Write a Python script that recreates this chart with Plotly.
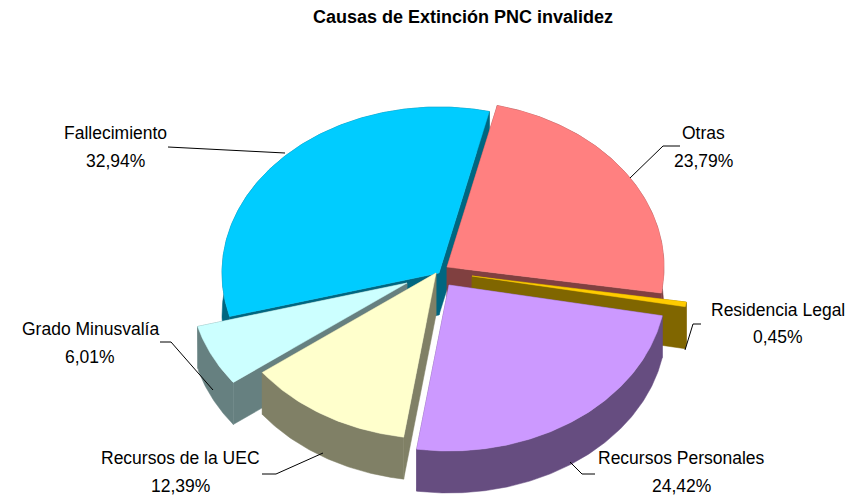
import math
import plotly.graph_objects as go

# --- data ---
categories = ["Otras", "Residencia Legal", "Recursos Personales", "Recursos de la UEC", "Grado Minusvalía", "Fallecimiento"]
values = [23.79, 0.45, 24.42, 12.39, 6.01, 32.94]
title_text = "Causas de Extinción PNC invalidez"

# --- styling / layout ---
top_colors = ["#FF8080", "#FFCC00", "#CC99FF", "#FFFFCC", "#CCFFFF", "#00CCFF"]
side_colors = ["#804040", "#806600", "#664D80", "#808066", "#668080", "#006680"]
apex_x = [447, 472, 449, 436, 407, 439]
apex_y = [267, 276, 285, 273, 283, 273]
paint_order = [5, 0, 1, 4, 3, 2]
label_x = [703, 778, 681, 180, 90, 115]
label_y = [(133, 161), (310, 337), (458, 486), (458, 486), (329, 357), (133, 161)]
leader_x = [[630, 663, 680], [685, 693, 701], [570, 582, 595], [323, 276, 262], [213, 171, 160], [285, 168]]
leader_y = [[178, 146, 146], [350, 324, 324], [462, 474, 474], [453, 474, 474], [390, 342, 342], [153, 147]]
RX, RY, DEPTH, START = 217, 166, 42, 13.4
FONT = "Liberation Sans, Arial, sans-serif"

fig = go.Figure()


def add_poly(xs, ys, color):
    fig.add_trace(go.Scatter(x=xs, y=ys, mode="lines", fill="toself", fillcolor=color,
                             line=dict(color=color, width=0.5), hoverinfo="skip", showlegend=False))


# slice angle ranges from the values
total = sum(values)
angles = []
a = START
for v in values:
    b = a + v / total * 360
    angles.append((a, b))
    a = b

for i in paint_order:
    a0, a1 = angles[i]
    n = max(3, int((a1 - a0) * 1.5))
    th = [math.radians(a0 + (a1 - a0) * k / n) for k in range(n + 1)]
    rim_x = [apex_x[i] + RX * math.sin(t) for t in th]
    rim_y = [apex_y[i] - RY * math.cos(t) for t in th]
    # extruded sides: both cut faces and the outer wall
    add_poly([apex_x[i], rim_x[0], rim_x[0], apex_x[i], apex_x[i]],
             [apex_y[i], rim_y[0], rim_y[0] + DEPTH, apex_y[i] + DEPTH, apex_y[i]], side_colors[i])
    add_poly([apex_x[i], rim_x[-1], rim_x[-1], apex_x[i], apex_x[i]],
             [apex_y[i], rim_y[-1], rim_y[-1] + DEPTH, apex_y[i] + DEPTH, apex_y[i]], side_colors[i])
    add_poly(rim_x + rim_x[::-1] + [rim_x[0]],
             rim_y + [y + DEPTH for y in rim_y[::-1]] + [rim_y[0]], side_colors[i])
    # top face
    add_poly([apex_x[i]] + rim_x + [apex_x[i]], [apex_y[i]] + rim_y + [apex_y[i]], top_colors[i])

for lx, ly in zip(leader_x, leader_y):
    fig.add_trace(go.Scatter(x=lx, y=ly, mode="lines", line=dict(color="black", width=1),
                             hoverinfo="skip", showlegend=False))

annotations = []
for i, cat in enumerate(categories):
    pct = f"{values[i]:.2f}".replace(".", ",") + "%"
    for text, y in zip((cat, pct), label_y[i]):
        annotations.append(dict(x=label_x[i], y=y, xref="x", yref="y", text=text, showarrow=False,
                                xanchor="center", yanchor="middle",
                                font=dict(family=FONT, size=17.5, color="black")))
annotations.append(dict(x=463, y=17, xref="x", yref="y", text=f"<b>{title_text}</b>", showarrow=False,
                        xanchor="center", yanchor="middle",
                        font=dict(family=FONT, size=18, color="black")))

fig.update_layout(
    width=857, height=497, margin=dict(l=0, r=0, t=0, b=0),
    paper_bgcolor="white", plot_bgcolor="white", showlegend=False,
    annotations=annotations,
    xaxis=dict(range=[0, 857], visible=False, fixedrange=True),
    yaxis=dict(range=[497, 0], visible=False, fixedrange=True),
)
fig.write_html("out.html", config=dict(displayModeBar=False),
               post_script="document.body.style.margin='0';document.body.style.overflow='hidden';")
